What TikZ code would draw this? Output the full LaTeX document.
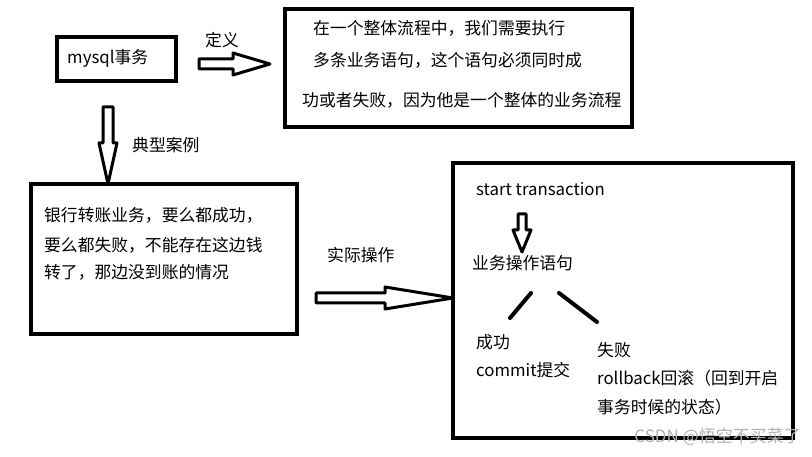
\documentclass[tikz,border=0pt]{standalone}
\usepackage{fontspec}
\setmainfont{Noto Sans CJK SC}
\usetikzlibrary{calc}
\begin{document}
\begin{tikzpicture}[x=1pt,y=-1pt,
  box/.style={draw=black,line width=4pt},
  txt/.style={anchor=west,inner sep=0pt,font=\fontsize{16.8}{20}\selectfont},
  blk/.style={draw=black,fill=white,line width=3pt,line join=round},
  slash/.style={draw=black,line width=4pt,line cap=round}]
\useasboundingbox[fill=white] (0,0) rectangle (812,457);
% boxes
\draw[box] (57,37) rectangle (176,81);
\draw[box] (285,9) rectangle (632,127);
\draw[box] (31,184) rectangle (297,334);
\draw[box] (453,163) rectangle (793,438);
% texts
\node[txt] (mysql) at (67,58) {mysql事务};
\node[txt] (def) at (205,40) {定义};
\node[txt] (case) at (132,145) {典型案例};
\node[txt] (d1) at (313,28) {在一个整体流程中，我们需要执行};
\node[txt] (d2) at (313,60) {多条业务语句，这个语句必须同时成};
\node[txt] (d3) at (302,100) {功或者失败，因为他是一个整体的业务流程};
\node[txt] (b1) at (44,215) {银行转账业务，要么都成功，};
\node[txt] (b2) at (44,245) {要么都失败，不能存在这边钱};
\node[txt] (b3) at (44,272) {转了，那边没到账的情况};
\node[txt] (op) at (327,255) {实际操作};
\node[txt] (st) at (476,189) {start transaction};
\node[txt] (stmt) at (472,263) {业务操作语句};
\node[txt] (ok) at (476,342) {成功};
\node[txt] (cm) at (476,370) {commit提交};
\node[txt] (fail) at (597,350) {失败};
\node[txt] (rb1) at (597,378) {rollback回滚（回到开启};
\node[txt] (rb2) at (597,407) {事务时候的状态）};
\node[anchor=east,inner sep=0pt,text=black!30,font=\fontsize{17}{20}\selectfont] (wm) at (801,437) {CSDN @悟空不买菜了};
% block arrows
\draw[blk] (199,59) -- (233,59) -- (233,53) -- (270,64) -- (233,75) -- (233,69) -- (199,69) -- cycle;
\draw[blk] (103,107) -- (113,107) -- (113,143) -- (117,143) -- (108,184) -- (99,143) -- (103,143) -- cycle;
\draw[blk] (316,293) -- (385,293) -- (385,287) -- (453,298) -- (385,309) -- (385,303) -- (316,303) -- cycle;
\draw[blk] (518,214) -- (526,214) -- (526,230) -- (531,230) -- (522,252) -- (513,230) -- (518,230) -- cycle;
% slashes
\draw[slash] (510,318) -- (531,293);
\draw[slash] (559,293) -- (597,322);
\end{tikzpicture}
\end{document}
